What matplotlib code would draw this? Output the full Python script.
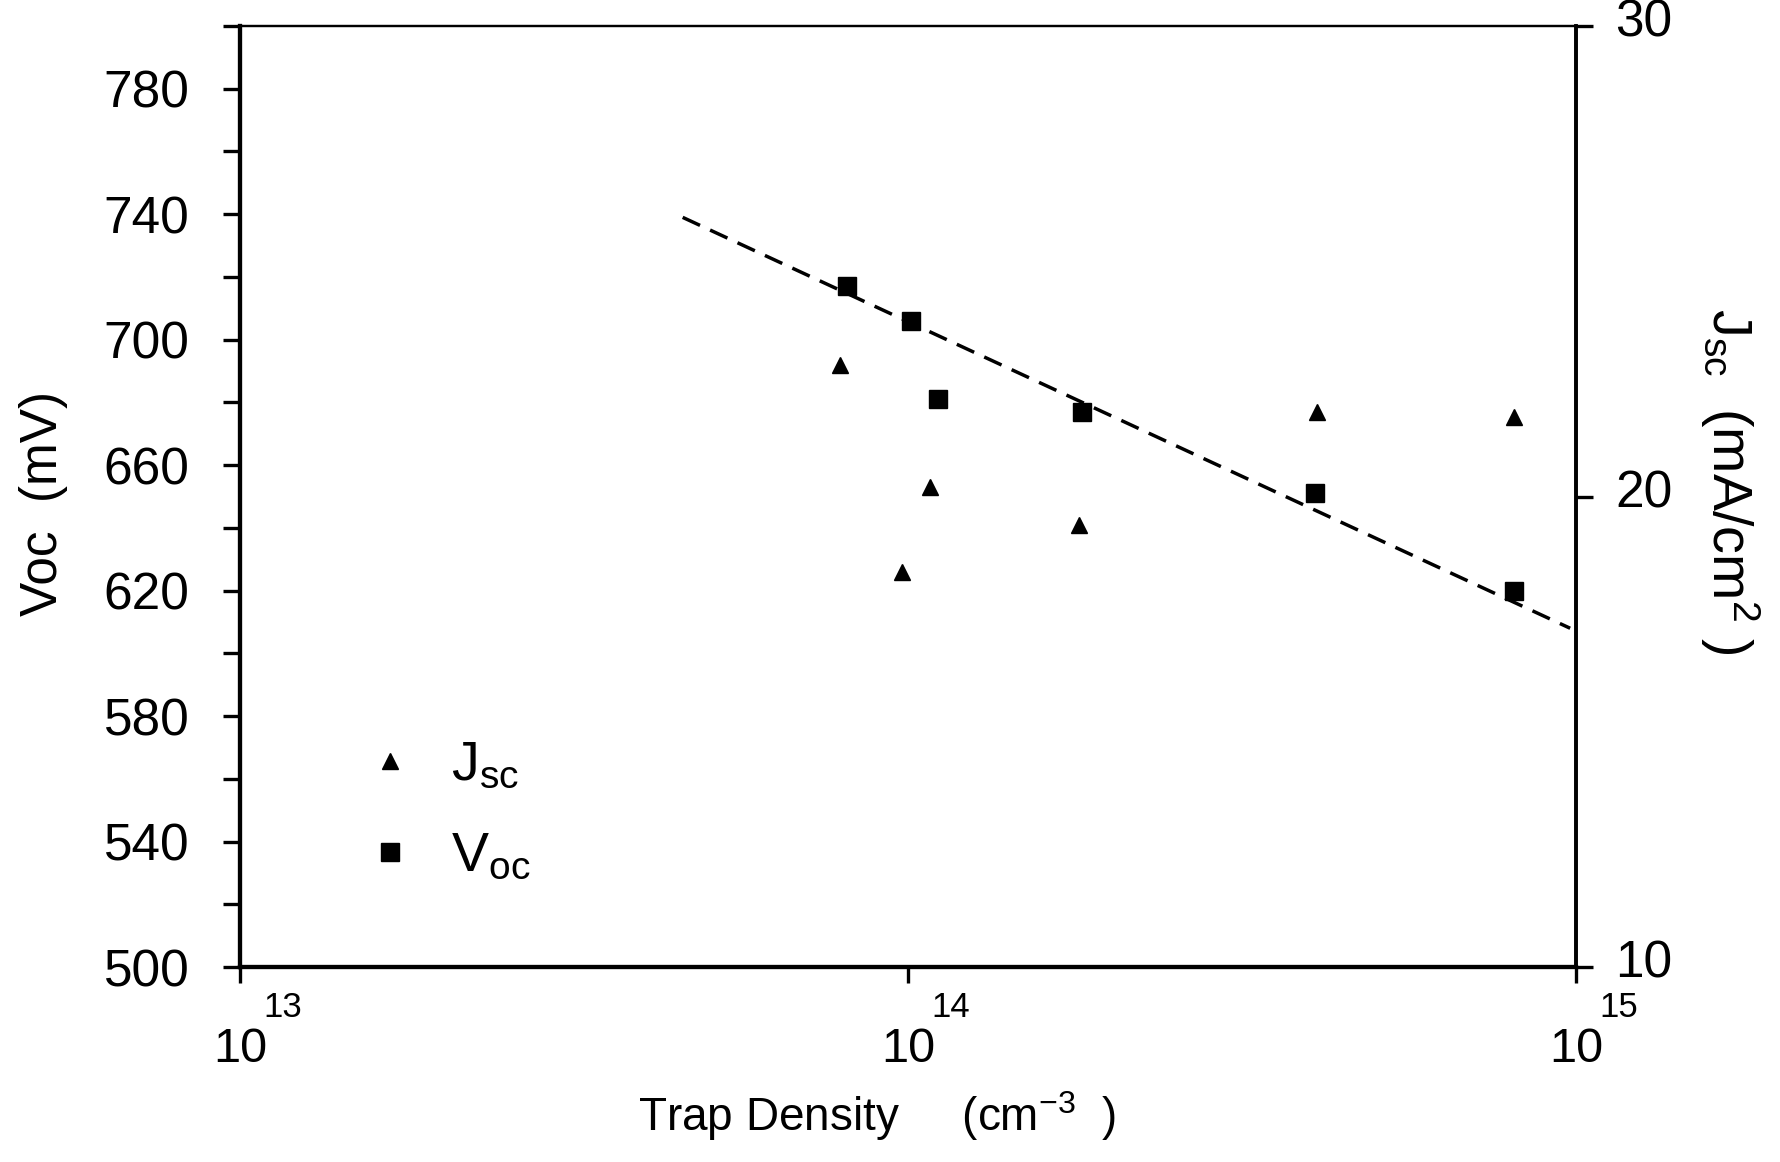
import matplotlib
matplotlib.use('Agg')
import matplotlib.pyplot as plt
from matplotlib.lines import Line2D
from matplotlib.ticker import FixedLocator, NullFormatter
from matplotlib.transforms import ScaledTranslation

# values
voc_density = [8.1e13, 1.01e14, 1.11e14, 1.82e14, 4.07e14, 8.07e14]
voc_mv = [717, 706, 681, 677, 651, 620]

jsc_density = [7.9e13, 9.8e13, 1.08e14, 1.80e14, 4.09e14, 8.07e14]
jsc_ma = [22.8, 18.4, 20.2, 19.4, 21.8, 21.7]

fit_density = [4.6e13, 9.8e14]
fit_voc = [739, 608]

x_ticks = [1e13, 1e14, 1e15]
x_exponents = ['13', '14', '15']
voc_major = [500, 540, 580, 620, 660, 700, 740, 780]
voc_minor = [520, 560, 600, 640, 680, 720, 760, 800]
jsc_ticks = [10, 20, 30]

plt.rcParams['font.family'] = 'Liberation Sans'
plt.rcParams['mathtext.default'] = 'regular'

fig = plt.figure(figsize=(17.8, 11.62), dpi=100)
ax = fig.add_axes([0.1348, 0.1678, 0.7506, 0.8098])
ax2 = ax.twinx()

ax.plot(fit_density, fit_voc, color='black', linewidth=2.5, dashes=(5.5, 3.2))
ax.plot(voc_density, voc_mv, linestyle='none', marker='s', markersize=12.5,
        color='black')
ax2.plot(jsc_density, jsc_ma, linestyle='none', marker='^', markersize=11,
         color='black')

ax.set_xscale('log')
ax.set_xlim(1e13, 1e15)
ax.set_ylim(500, 800)
ax2.set_ylim(10, 30)

ax.xaxis.set_major_locator(FixedLocator(x_ticks))
ax.xaxis.set_minor_locator(FixedLocator([]))
ax.xaxis.set_major_formatter(NullFormatter())
ax.set_yticks(voc_major)
ax.set_yticks(voc_minor, minor=True)
ax2.set_yticks(jsc_ticks)

ax.tick_params(axis='y', which='both', direction='out', length=12.5, width=2.4,
               labelsize=37, pad=24)
ax.tick_params(axis='x', direction='out', length=11.5, width=2.4)
ax2.tick_params(axis='y', direction='out', length=12.5, width=2.4,
                labelsize=37, pad=16)
# right-hand numbers sit a little above their ticks in the original
lift = ScaledTranslation(0, 6 / 72, fig.dpi_scale_trans)
for lab in ax2.get_yticklabels():
    lab.set_transform(lab.get_transform() + lift)

# x tick labels: "10" centred on the tick, exponent raised above to the right
for xv, ex in zip(x_ticks, x_exponents):
    ax.annotate('10', xy=(xv, 0), xycoords=('data', 'axes fraction'),
                xytext=(0, -43), textcoords='offset points',
                ha='center', va='top', fontsize=35)
    ax.annotate(ex, xy=(xv, 0), xycoords=('data', 'axes fraction'),
                xytext=(17, -41), textcoords='offset points',
                ha='left', va='bottom', fontsize=25)

for a in (ax, ax2):
    a.spines['left'].set_linewidth(3)
    a.spines['bottom'].set_linewidth(3)
    a.spines['right'].set_linewidth(2.6)
    a.spines['top'].set_linewidth(1.6)

ax.set_xlabel(r'Trap Density     (cm$^{-3}$  )', fontsize=33, va='center')
ax.xaxis.set_label_coords(0.477, -0.158)
ax.set_ylabel('Voc  (mV)', fontsize=37, va='center')
ax.yaxis.set_label_coords(-0.147, 0.493)
ax2.set_ylabel(r'$J_{sc}$  (mA/cm$^2$ )', fontsize=40, rotation=270,
               va='center')
ax2.yaxis.set_label_coords(1.115, 0.516)

handles = [
    Line2D([], [], linestyle='none', marker='^', markersize=11, color='black'),
    Line2D([], [], linestyle='none', marker='s', markersize=13, color='black'),
]
ax2.legend(handles, [r'$J_{sc}$', r'$V_{oc}$'], loc='upper left',
           bbox_to_anchor=(0.0996, 0.241), frameon=False, fontsize=40,
           borderpad=0, borderaxespad=0, handlelength=0.6,
           handletextpad=0.8, labelspacing=0.7)

plt.savefig('out.png', dpi=100)
